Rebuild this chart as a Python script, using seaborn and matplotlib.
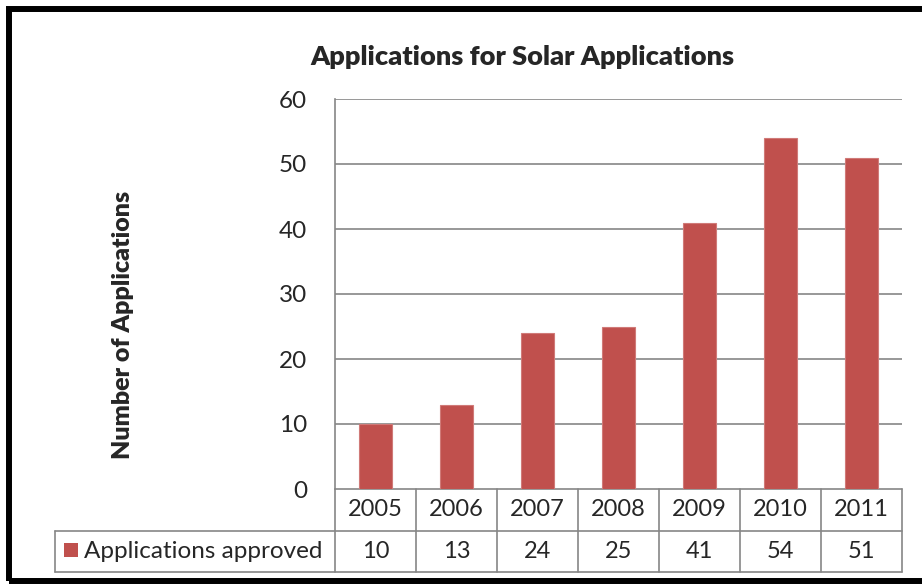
import matplotlib
matplotlib.use('Agg')
import matplotlib.pyplot as plt
import matplotlib.transforms as mtransforms
from matplotlib.patches import Rectangle
import seaborn as sns
import pandas as pd

# data
years = ['2005', '2006', '2007', '2008', '2009', '2010', '2011']
approved = [10, 13, 24, 25, 41, 54, 51]
series_name = 'Applications approved'
title = 'Applications for Solar Applications'
ylabel = 'Number of Applications'
yticks = [0, 10, 20, 30, 40, 50, 60]

BAR = '#C0504D'
GRID = '#868686'

sns.set_theme(style='white')
plt.rcParams['font.family'] = ['Lato', 'DejaVu Sans']

df = pd.DataFrame({'Year': years, 'Count': approved})

W, H = 922, 584
fig = plt.figure(figsize=(W / 100, H / 100), dpi=100)
ax = fig.add_axes([335 / W, (H - 489) / H, 567 / W, 390 / H])

sns.barplot(data=df, x='Year', y='Count', color=BAR, saturation=1, width=0.4,
            edgecolor='#D07A78', linewidth=0.8, ax=ax, zorder=3)

ax.set_xlim(-0.5, len(years) - 0.5)
ax.set_ylim(0, 60)
ax.set_yticks(yticks)
ax.set_yticklabels([str(v) for v in yticks], fontsize=17.5)
ax.tick_params(axis='y', length=0, pad=20)
ax.set_xticks([])
ax.set_xlabel('')
ax.set_ylabel('')
for v in yticks[1:]:
    ax.axhline(v, color=GRID, lw=1.2, zorder=1)
for s in ['top', 'right', 'bottom']:
    ax.spines[s].set_visible(False)
ax.spines['left'].set_color(GRID)
ax.spines['left'].set_linewidth(1.2)

# data table under the axis
r1 = -42 / 390
r2 = -83 / 390
left = (55 - 335) / 567
bt = mtransforms.blended_transform_factory(ax.transData, ax.transAxes)
kw = dict(color=GRID, lw=1.2, clip_on=False)
ax.plot([0, 1], [0, 0], transform=ax.transAxes, **kw)
ax.plot([left, 1], [r1, r1], transform=ax.transAxes, **kw)
ax.plot([left, 1], [r2, r2], transform=ax.transAxes, **kw)
ax.plot([left, left], [r1, r2], transform=ax.transAxes, **kw)
for i in range(len(years) + 1):
    ax.plot([i - 0.5, i - 0.5], [0, r2], transform=bt, **kw)
for i, (yr, v) in enumerate(zip(years, approved)):
    ax.text(i, r1 / 2, yr, transform=bt, ha='center', va='center', fontsize=17)
    ax.text(i, (r1 + r2) / 2, str(v), transform=bt, ha='center', va='center', fontsize=17)

# legend key inside the row label cell
fig.patches.append(Rectangle((64 / W, (H - 557) / H), 14 / W, 14 / H,
                             transform=fig.transFigure, facecolor=BAR, edgecolor='none'))
fig.text(84 / W, (H - 551) / H, series_name, ha='left', va='center', fontsize=17.5)

fig.text(522 / W, (H - 57) / H, title, ha='center', va='center', fontsize=19.5, fontweight='heavy')
fig.text(123 / W, (H - 325) / H, ylabel, ha='center', va='center', rotation=90,
         fontsize=18, fontweight='heavy')

# black chart frame, right edge runs off the image
fig.patches.append(Rectangle((9 / W, 3 / H), 1.0, (H - 12) / H, transform=fig.transFigure,
                             facecolor='none', edgecolor='black', linewidth=4.3))

fig.savefig('out.png', dpi=100)
